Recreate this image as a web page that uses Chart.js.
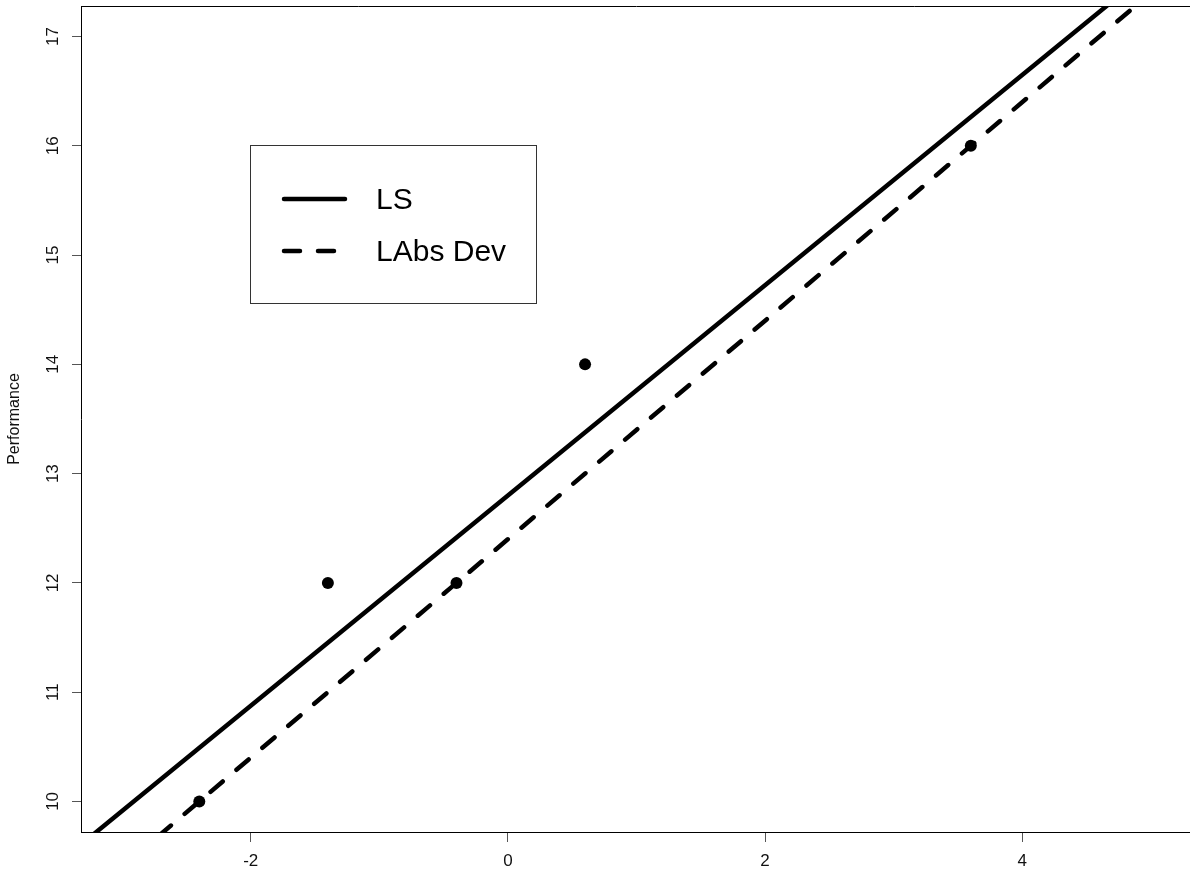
<!DOCTYPE html>
<html>
<head>
<meta charset="utf-8">
<title>Performance</title>
<script src="https://cdn.jsdelivr.net/npm/chart.js@4/dist/chart.umd.min.js"></script>
<style>
  html, body { margin: 0; padding: 0; background: #fff; overflow: hidden; }
  #wrap { width: 1198px; height: 871px; }
  #perfChart { display: block; width: 1198px; height: 871px; }
</style>
</head>
<body>
<div id="wrap"><canvas id="perfChart" width="1198" height="871"></canvas></div>
<script>
// observations
const pointX = [-2.4, -1.4, -0.4, 0.6, 3.6];
const pointY = [10, 12, 12, 14, 16];

// fitted lines: least squares and least absolute deviations
const fitNames = ['LS', 'LAbs Dev'];
const fitIntercepts = [12.8, 12.4];
const fitSlopes = [0.9623, 1];
const fitDashes = [[], [16, 18]];

// axes
const xTicks = [-2, 0, 2, 4];
const yTicks = [10, 11, 12, 13, 14, 15, 16, 17];
const xRange = [-3.32, 5.32];
const yRange = [9.72, 17.28];

const FONT = "'Liberation Sans', Arial, sans-serif";
const LINE_W = 4.5;

const fitSets = fitNames.map((name, i) => ({
    label: name,
    data: xRange.map(x => ({ x: x, y: fitIntercepts[i] + fitSlopes[i] * x })),
    showLine: true,
    borderColor: '#000',
    borderWidth: LINE_W,
    borderDash: fitDashes[i],
    borderCapStyle: 'round',
    pointRadius: 0,
    fill: false
}));

// top edge of the box (left and bottom come from the axis borders)
const frame = {
    id: 'frame',
    afterDraw(chart) {
        const { ctx, chartArea: a } = chart;
        ctx.save();
        ctx.strokeStyle = '#000';
        ctx.lineWidth = 1;
        ctx.beginPath();
        ctx.moveTo(a.left, a.top + 0.5);
        ctx.lineTo(a.right, a.top + 0.5);
        ctx.stroke();
        ctx.restore();
    }
};

// y tick labels, turned to read upwards
const yTickLabels = {
    id: 'yTickLabels',
    afterDraw(chart) {
        const { ctx } = chart;
        const y = chart.scales.y;
        ctx.save();
        ctx.fillStyle = '#111';
        ctx.font = '17px ' + FONT;
        ctx.textAlign = 'center';
        ctx.textBaseline = 'middle';
        yTicks.forEach(v => {
            ctx.save();
            ctx.translate(53, y.getPixelForValue(v));
            ctx.rotate(-Math.PI / 2);
            ctx.fillText(String(v), 0, 0);
            ctx.restore();
        });
        ctx.restore();
    }
};

// boxed legend inside the plot
const lineLegend = {
    id: 'lineLegend',
    afterDraw(chart) {
        const { ctx } = chart;
        const bx = 250.5, by = 145.5, bw = 286, bh = 158;
        ctx.save();
        ctx.fillStyle = '#fff';
        ctx.fillRect(bx, by, bw, bh);
        ctx.strokeStyle = '#333';
        ctx.lineWidth = 1;
        ctx.strokeRect(bx, by, bw, bh);
        const rows = [199, 251];
        fitNames.forEach((name, i) => {
            ctx.strokeStyle = '#000';
            ctx.lineWidth = LINE_W;
            ctx.lineCap = 'round';
            ctx.setLineDash(fitDashes[i]);
            ctx.beginPath();
            ctx.moveTo(284, rows[i]);
            ctx.lineTo(345, rows[i]);
            ctx.stroke();
            ctx.setLineDash([]);
            ctx.fillStyle = '#000';
            ctx.font = '30px ' + FONT;
            ctx.textAlign = 'left';
            ctx.textBaseline = 'middle';
            ctx.fillText(name, 376, rows[i] + 2);
        });
        ctx.restore();
    }
};

new Chart(document.getElementById('perfChart'), {
    type: 'scatter',
    data: {
        datasets: [{
            label: 'Performance',
            data: pointX.map((x, i) => ({ x: x, y: pointY[i] })),
            pointRadius: 6,
            pointBackgroundColor: '#000',
            pointBorderWidth: 0,
            showLine: false
        }].concat(fitSets)
    },
    options: {
        responsive: false,
        animation: false,
        devicePixelRatio: 1,
        layout: { padding: { top: 6, right: 2, left: 0, bottom: 0 } },
        plugins: {
            legend: { display: false },
            tooltip: { enabled: false }
        },
        scales: {
            x: {
                type: 'linear',
                min: xRange[0],
                max: xRange[1],
                afterBuildTicks: s => { s.ticks = xTicks.map(v => ({ value: v })); },
                afterFit: s => { s.height = 39; },
                grid: { drawOnChartArea: false, color: '#555', tickLength: 10 },
                border: { display: true, color: '#000', width: 1 },
                ticks: {
                    color: '#111',
                    font: { family: FONT, size: 17 },
                    padding: 9,
                    maxRotation: 0
                }
            },
            y: {
                type: 'linear',
                min: yRange[0],
                max: yRange[1],
                afterBuildTicks: s => { s.ticks = yTicks.map(v => ({ value: v })); },
                afterFit: s => { s.width = 81; },
                grid: { drawOnChartArea: false, color: '#555', tickLength: 9 },
                border: { display: true, color: '#000', width: 1 },
                ticks: { display: false },
                title: {
                    display: true,
                    text: 'Performance',
                    color: '#111',
                    font: { family: FONT, size: 16 },
                    padding: { top: 5, bottom: 0 }
                }
            }
        }
    },
    plugins: [frame, yTickLabels, lineLegend]
});
</script>
</body>
</html>
